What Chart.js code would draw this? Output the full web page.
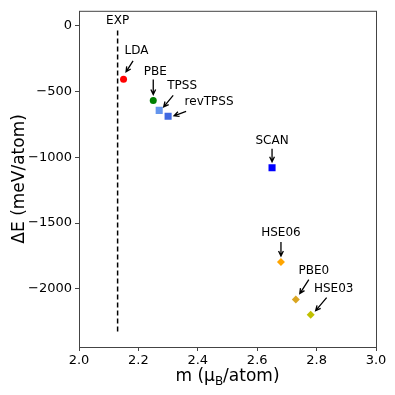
<!DOCTYPE html>
<html>
<head>
<meta charset="utf-8">
<script src="https://cdn.jsdelivr.net/npm/chart.js@4"></script>
<style>body{margin:0;background:#fff}</style>
</head>
<body>
<canvas id="mychart" width="395" height="395"></canvas>
<script>
// functionals, magnetic moment (muB/atom) and energy difference (meV/atom)
var methods = ['LDA', 'PBE', 'TPSS', 'revTPSS', 'SCAN', 'HSE06', 'PBE0', 'HSE03'];
var moment = [2.15, 2.25, 2.27, 2.30, 2.65, 2.68, 2.73, 2.78];
var deltaE = [-410, -570, -645, -690, -1080, -1795, -2080, -2195];
var expMoment = 2.13;
var expRange = [-40, -2330];
var xTicks = [2.0, 2.2, 2.4, 2.6, 2.8, 3.0];
var yTicks = [0, -500, -1000, -1500, -2000];

var colors = ['#ff0000', '#008000', '#6495ed', '#4169e1', '#0000ff', '#ffa500', '#daa520', '#c0c000'];
var shapes = ['circle', 'circle', 'rect', 'rect', 'rect', 'rectRot', 'rectRot', 'rectRot'];
var sizes = [3.5, 3.5, 5, 5, 5, 4, 4, 4];

// label / arrow offsets in pixels relative to the point
var callouts = {
  LDA:     {text: [13, -28], from: [9.5, -18.5], to: [2.5, -7.5]},
  PBE:     {text: [2, -29],  from: [0, -21],  to: [0, -6]},
  TPSS:    {text: [23, -24], from: [14, -15], to: [4.5, -3.5]},
  revTPSS: {text: [41, -14], from: [18, -5],  to: [6, -0.5]},
  SCAN:    {text: [0, -27],  from: [0, -19],  to: [0, -6]},
  HSE06:   {text: [0, -29],  from: [0, -20],  to: [0, -6]},
  PBE0:    {text: [18, -29], from: [13, -20], to: [4, -6]},
  HSE03:   {text: [23, -26], from: [16, -17], to: [5, -4]}
};

var FONT = "'DejaVu Sans', sans-serif";

function arrow(ctx, x1, y1, x2, y2) {
  var a = Math.atan2(y2 - y1, x2 - x1);
  var h = 5.5, w = 0.45;
  ctx.beginPath();
  ctx.moveTo(x1, y1);
  ctx.lineTo(x2, y2);
  ctx.moveTo(x2 - h * Math.cos(a - w), y2 - h * Math.sin(a - w));
  ctx.lineTo(x2, y2);
  ctx.lineTo(x2 - h * Math.cos(a + w), y2 - h * Math.sin(a + w));
  ctx.stroke();
}

var decor = {
  id: 'decor',
  afterDatasetsDraw: function(chart) {
    var ctx = chart.ctx, xs = chart.scales.x, ys = chart.scales.y, ca = chart.chartArea;
    ctx.save();
    ctx.fillStyle = '#000';
    ctx.strokeStyle = '#000';
    ctx.lineWidth = 1.3;
    ctx.font = '12px ' + FONT;
    ctx.textAlign = 'center';
    ctx.textBaseline = 'middle';
    for (var i = 0; i < methods.length; i++) {
      var px = xs.getPixelForValue(moment[i]);
      var py = ys.getPixelForValue(deltaE[i]);
      var c = callouts[methods[i]];
      ctx.fillText(methods[i], px + c.text[0], py + c.text[1]);
      arrow(ctx, px + c.from[0], py + c.from[1], px + c.to[0], py + c.to[1]);
    }
    // EXP label above the dashed line
    ctx.fillText('EXP', xs.getPixelForValue(expMoment), ys.getPixelForValue(expRange[0]) - 10);

    // frame
    ctx.strokeStyle = '#444';
    ctx.lineWidth = 1;
    ctx.strokeRect(ca.left + 0.5, ca.top + 0.5, ca.right - ca.left, ca.bottom - ca.top);

    // x title with subscript
    var cx = (ca.left + ca.right) / 2, ty = 377;
    ctx.textAlign = 'left';
    ctx.textBaseline = 'middle';
    var big = '17px ' + FONT, small = '12px ' + FONT;
    ctx.font = big;
    var w1 = ctx.measureText('m (\u03bc').width, w3 = ctx.measureText('/atom)').width;
    ctx.font = small;
    var w2 = ctx.measureText('B').width;
    var x0 = cx - (w1 + w2 + w3) / 2;
    ctx.font = big;
    ctx.fillText('m (\u03bc', x0, ty);
    ctx.font = small;
    ctx.fillText('B', x0 + w1, ty + 5);
    ctx.font = big;
    ctx.fillText('/atom)', x0 + w1 + w2, ty);
    ctx.restore();
  }
};

var ctx = document.getElementById('mychart');

var chart = new Chart(ctx, {
  type: 'scatter',
  data: {
    datasets: [
      {
        type: 'line',
        label: 'EXP',
        data: [{x: expMoment, y: expRange[0]}, {x: expMoment, y: expRange[1]}],
        borderColor: '#000',
        borderWidth: 1.5,
        borderDash: [5, 3],
        pointRadius: 0,
        fill: false
      },
      {
        label: 'functionals',
        data: moment.map(function(m, i) { return {x: m, y: deltaE[i]}; }),
        backgroundColor: colors,
        borderColor: colors,
        borderWidth: 0,
        pointStyle: shapes,
        pointRadius: sizes
      }
    ]
  },
  options: {
    responsive: false,
    devicePixelRatio: 1,
    animation: false,
    layout: {padding: {top: 10, right: 19, left: 0, bottom: 0}},
    plugins: {legend: {display: false}, tooltip: {enabled: false}},
    scales: {
      x: {
        type: 'linear',
        min: 2.0,
        max: 3.0,
        afterBuildTicks: function(axis) { axis.ticks = xTicks.map(function(v) { return {value: v}; }); },
        afterFit: function(axis) { axis.height = 48; },
        grid: {drawOnChartArea: false, drawTicks: true, tickLength: 4, color: '#444'},
        border: {display: false},
        ticks: {
          color: '#000',
          padding: 2,
          maxRotation: 0,
          font: {family: FONT, size: 13},
          callback: function(v) { return v.toFixed(1); }
        }
      },
      y: {
        type: 'linear',
        min: -2440,
        max: 110,
        afterBuildTicks: function(axis) { axis.ticks = yTicks.map(function(v) { return {value: v}; }); },
        afterFit: function(axis) { axis.width = 79; },
        grid: {drawOnChartArea: false, drawTicks: true, tickLength: 4, color: '#444'},
        border: {display: false},
        title: {
          display: true,
          text: '\u0394E (meV/atom)',
          color: '#000',
          padding: {top: 9, bottom: 0},
          font: {family: FONT, size: 17}
        },
        ticks: {
          color: '#000',
          padding: 3,
          font: {family: FONT, size: 13},
          callback: function(v) { return String(v).replace('-', '\u2212'); }
        }
      }
    }
  },
  plugins: [decor]
});
</script>
</body>
</html>
